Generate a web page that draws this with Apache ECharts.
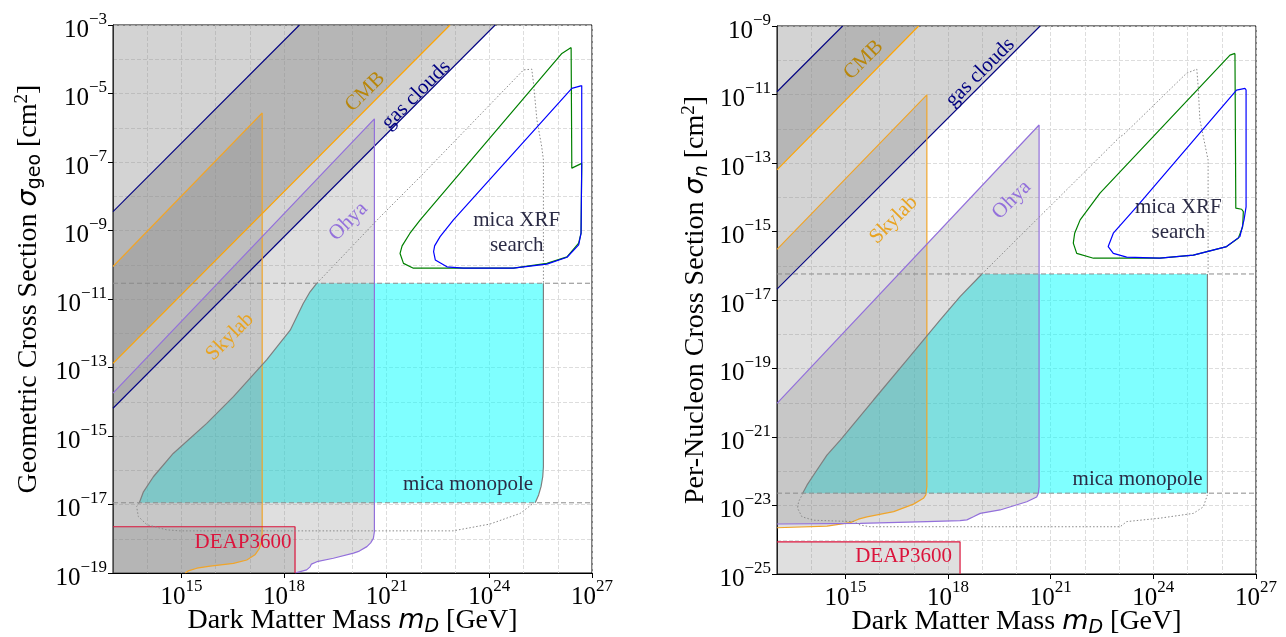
<!DOCTYPE html>
<html><head><meta charset="utf-8">
<script src="https://cdn.jsdelivr.net/npm/echarts@6/dist/echarts.min.js"></script>
<style>html,body{margin:0;padding:0;background:#fff}#c{width:1286px;height:637px}</style>
</head><body><div id="c"></div>
<script>
// All values are log10: x = log10(m_D / GeV), y = log10(sigma / cm^2)
const xTicks = [15, 18, 21, 24, 27];
const yTicksGeo = [-19, -17, -15, -13, -11, -9, -7, -5, -3];
const yTicksN = [-25, -23, -21, -19, -17, -15, -13, -11, -9];

// ---------- Left panel: geometric cross section ----------
const geoGasUpper = [[13, -8.45], [18.45, -3]];
const geoGasLower = [[13, -14.19], [24.17, -3]];
const geoCMB = [[13, -12.88], [22.85, -3]];
const geoSkylab = [[13, -10.05], [17.36, -5.57], [17.36, -17.79], [17.35, -18.04], [17.28, -18.28], [17.15, -18.47], [16.91, -18.62], [16.52, -18.72], [15.84, -18.80], [15.45, -18.86], [15.20, -18.94], [15.11, -19]];
const geoOhya = [[13, -13.75], [20.64, -5.74], [20.64, -17.79], [20.61, -17.99], [20.53, -18.12], [20.42, -18.23], [20.20, -18.36], [20.03, -18.42], [19.44, -18.57], [18.96, -18.67], [18.80, -18.74], [18.76, -18.82], [18.66, -18.91], [18.47, -18.96], [18.32, -19]];
const geoDEAP = [[13, -17.65], [18.32, -17.65], [18.32, -19]];
const geoMonoLeft = [[13.77, -16.95], [13.89, -16.63], [14.18, -16.19], [14.76, -15.51], [15.74, -14.63], [16.52, -13.85], [17.49, -12.78], [18.18, -11.91], [18.56, -11.13], [18.76, -10.79], [18.96, -10.54]];
const geoMonoRight = [[25.58, -10.54], [25.58, -15.90], [25.56, -16.19], [25.51, -16.48], [25.44, -16.72], [25.34, -16.95]];
const geoBand = [-10.54, -16.95];
const geoDotUpper = [[18.96, -10.54], [20.81, -8.60], [21.98, -7.43], [25.00, -4.31], [25.24, -4.29], [25.29, -4.70], [25.39, -5.77], [25.53, -6.55], [25.58, -6.94], [25.58, -10.54]];
const geoDotLower = [[13.77, -16.95], [13.69, -17.06], [13.74, -17.35], [13.99, -17.59], [14.57, -17.74], [14.96, -17.77], [22.94, -17.77], [24.02, -17.57], [24.90, -17.26], [25.29, -16.96]];
const geoXRFgreen = [[26.39, -3.66], [26.12, -3.83], [21.98, -8.69], [21.68, -9.08], [21.45, -9.45], [21.39, -9.67], [21.49, -9.96], [21.78, -10.10], [24.70, -10.10], [25.68, -9.96], [26.27, -9.77], [26.61, -9.37], [26.68, -9.08], [26.70, -7.04], [26.65, -7.04], [26.41, -7.18], [26.39, -3.66]];
const geoXRFblue = [[26.70, -4.77], [26.41, -4.85], [22.95, -8.69], [22.56, -9.18], [22.40, -9.45], [22.37, -9.62], [22.42, -9.86], [22.76, -10.06], [23.24, -10.10], [24.70, -10.10], [25.68, -9.98], [26.27, -9.78], [26.61, -9.42], [26.68, -9.08], [26.70, -7.04], [26.70, -4.77]];

// ---------- Right panel: per-nucleon cross section ----------
const nGasUpper = [[13, -10.92], [14.92, -9]];
const nGasLower = [[13, -16.68], [20.69, -9]];
const nCMB = [[13, -13.20], [17.14, -9]];
const nSkylab = [[13, -15.52], [17.38, -11.01], [17.38, -22.45], [17.35, -22.69], [17.28, -22.79], [16.99, -22.96], [16.41, -23.18], [15.63, -23.33], [15.38, -23.40], [15.14, -23.50], [14.46, -23.60], [13, -23.65]];
const nOhya = [[13, -20.02], [20.66, -11.89], [20.66, -22.45], [20.64, -22.64], [20.59, -22.75], [20.30, -22.89], [19.52, -23.13], [18.94, -23.23], [18.74, -23.33], [18.55, -23.42], [18.35, -23.44], [17.38, -23.47], [15.43, -23.52], [13, -23.54]];
const nDEAP = [[13, -24.06], [18.35, -24.06], [18.35, -25]];
const nMonoLeft = [[13.75, -22.64], [13.88, -22.40], [14.07, -22.11], [14.46, -21.53], [14.85, -21.09], [15.82, -19.92], [16.80, -18.75], [17.77, -17.58], [18.35, -16.90], [18.99, -16.24]];
const nMonoRight = [[25.58, -16.24], [25.58, -22.64]];
const nBand = [-16.24, -22.64];
const nDotUpper = [[18.99, -16.24], [23.03, -12.23], [23.12, -12.18], [24.97, -10.38], [25.27, -10.26], [25.31, -10.77], [25.36, -11.74], [25.56, -12.72], [25.60, -12.91], [25.60, -16.24]];
const nDotLower = [[13.76, -22.64], [13.63, -22.89], [13.60, -23.08], [13.73, -23.33], [14.07, -23.43], [15.24, -23.47], [15.43, -23.57], [15.72, -23.62], [23.03, -23.62], [23.22, -23.47], [24.19, -23.37], [25.17, -23.23], [25.46, -23.04], [25.58, -22.69]];
const nXRFgreen = [[26.385, -9.80], [26.24, -9.85], [22.44, -13.88], [21.86, -14.66], [21.70, -15.05], [21.66, -15.34], [21.76, -15.64], [22.25, -15.78], [24.19, -15.78], [25.17, -15.69], [26.14, -15.44], [26.48, -15.20], [26.61, -14.86], [26.63, -14.42], [26.58, -14.35], [26.41, -14.32], [26.385, -9.80]];
const nXRFblue = [[26.68, -10.82], [26.43, -10.87], [23.51, -14.28], [22.83, -15.05], [22.68, -15.44], [22.83, -15.64], [23.22, -15.75], [24.19, -15.78], [25.17, -15.69], [26.14, -15.44], [26.53, -15.15], [26.65, -14.66], [26.71, -14.28], [26.71, -10.87], [26.68, -10.82]];

// text anchors (data coordinates)
const geoLabelAt = {CMB: [20.37, -4.95], gas: [21.86, -5.04], Skylab: [16.42, -12.10], Ohya: [19.88, -8.74], XRF: [24.80, -9.06], mono: [25.28, -16.43], DEAP: [16.80, -18.12]};
const nLabelAt = {CMB: [15.53, -9.99], gas: [18.94, -10.36], Skylab: [16.41, -14.66], Ohya: [19.86, -14.08], XRF: [24.73, -14.66], mono: [25.44, -22.23], DEAP: [16.70, -24.49]};

const SERIF = '"Liberation Serif","Times New Roman",serif';
const SANS = '"DejaVu Sans",sans-serif';
const GREY_A = 'rgba(128,128,128,0.35)';
const GREY_B = 'rgba(128,128,128,0.25)';

function supTxt(v) { return v < 0 ? '\u2212' + (-v) : String(v); }
const tickRich = {
  b: {fontFamily: SERIF, fontSize: 25, lineHeight: 38, color: '#000'},
  s: {fontFamily: SERIF, fontSize: 17, lineHeight: 17, verticalAlign: 'top', color: '#000'}
};
const nameRich = {
  t: {fontFamily: SERIF, fontSize: 28, lineHeight: 32, color: '#000'},
  m: {fontFamily: SANS, fontStyle: 'italic', fontSize: 27, lineHeight: 32, color: '#000'},
  d: {fontFamily: SANS, fontStyle: 'italic', fontSize: 19, lineHeight: 19, verticalAlign: 'bottom', color: '#000'},
  dr: {fontFamily: SANS, fontSize: 19, lineHeight: 19, verticalAlign: 'bottom', color: '#000'},
  u: {fontFamily: SERIF, fontSize: 19, lineHeight: 19, verticalAlign: 'top', color: '#000'}
};

function axesFor(gi, ymin, ymax, yTicks, yName, yGap, yPad) {
  const split = {show: true, lineStyle: {color: '#d4d4d4', type: [4, 2], width: 0.8}};
  const xs = [
    {gridIndex: gi, type: 'value', position: 'bottom', min: 13, max: 27, interval: 1,
     axisLine: {show: true, onZero: false, lineStyle: {color: '#000', width: 1}}, axisTick: {show: false}, axisLabel: {show: false}, splitLine: split},
    {gridIndex: gi, type: 'value', position: 'bottom', min: 13, max: 27,
     axisLine: {show: false, onZero: false},
     axisTick: {show: true, customValues: xTicks, length: 5, lineStyle: {color: '#000'}},
     axisLabel: {customValues: xTicks, margin: 5, formatter: v => xTicks.includes(v) ? '{b|10}{s|' + supTxt(v) + '}' : '', rich: tickRich},
     splitLine: {show: false},
     name: '{t|Dark Matter Mass }{m|m}{d|D}{t| [GeV]}', nameLocation: 'middle', nameGap: 32, nameMoveOverlap: false, nameTextStyle: {rich: nameRich}}
  ];
  const ys = [
    {gridIndex: gi, type: 'value', position: 'left', min: ymin, max: ymax, interval: 1,
     axisLine: {show: true, onZero: false, lineStyle: {color: '#000', width: 1}}, axisTick: {show: false}, axisLabel: {show: false}, splitLine: split},
    {gridIndex: gi, type: 'value', position: 'left', min: ymin, max: ymax,
     axisLine: {show: false, onZero: false},
     axisTick: {show: true, customValues: yTicks, length: 5, lineStyle: {color: '#000'}},
     axisLabel: {customValues: yTicks, margin: 6, padding: [10, 0, 0, 0], formatter: v => yTicks.includes(v) ? '{b|10}{s|' + supTxt(v) + '}' : '', rich: tickRich},
     splitLine: {show: false},
     name: yName, nameLocation: 'middle', nameGap: yGap, nameRotate: 90, nameTextStyle: {rich: nameRich, padding: yPad}}
  ];
  return {xs, ys};
}

function poly(gi, pts, fill, z) {
  return {type: 'custom', xAxisIndex: gi * 2, yAxisIndex: gi * 2, clip: true, silent: true, z: z,
    data: [pts[0]],
    renderItem: (p, api) => ({type: 'polygon', shape: {points: pts.map(q => api.coord(q))}, style: {fill: fill}})};
}
function line(gi, pts, color, width, type, z) {
  return {type: 'line', xAxisIndex: gi * 2, yAxisIndex: gi * 2, data: pts, symbol: 'none', showSymbol: false,
    silent: true, z: z || 5, lineStyle: {color: color, width: width, type: type || 'solid'}};
}
function label(gi, at, text, color, rot, align) {
  return {type: 'custom', xAxisIndex: gi * 2, yAxisIndex: gi * 2, silent: true, z: 20, data: [at],
    renderItem: (p, api) => {
      const c = api.coord([api.value(0), api.value(1)]);
      return {type: 'text', x: c[0], y: c[1], rotation: rot || 0,
        style: {text: text, fill: color, font: '21px ' + SERIF, align: align || 'center', verticalAlign: 'middle', lineHeight: 25}};
    }};
}

function panel(gi, d) {
  const yMin = d.ymin, band = d.band;
  return [
    poly(gi, d.monoLeft.concat(d.monoRight), 'rgba(0,255,255,0.5)', 1),
    poly(gi, d.cmb.concat([[13, d.ymax]]), GREY_A, 2),
    poly(gi, d.gasUpper.concat(d.gasLower.slice().reverse()), GREY_A, 2),
    poly(gi, d.skylab.concat(d.skylabClose), GREY_B, 2),
    poly(gi, d.ohya.concat(d.ohyaClose), GREY_B, 2),
    poly(gi, d.deap.concat([[13, yMin]]), GREY_B, 2),
    line(gi, d.gasUpper, '#000080', 1.1),
    line(gi, d.gasLower, '#000080', 1.1),
    line(gi, d.cmb, '#FFA500', 1.2),
    line(gi, d.skylab, '#F0A52A', 1.2),
    line(gi, d.ohya, '#9370DB', 1.2),
    line(gi, d.deap, '#DC143C', 1.2),
    line(gi, d.monoLeft, '#7f7f7f', 1.2),
    line(gi, d.monoRight, '#7f7f7f', 1.2),
    line(gi, [[13, band[0]], [27, band[0]]], '#8a8a8a', 1, [5, 3]),
    line(gi, [[13, band[1]], [27, band[1]]], '#8a8a8a', 1, [5, 3]),
    line(gi, d.dotUpper, '#8a8a8a', 1, [1.5, 2]),
    line(gi, d.dotLower, '#8a8a8a', 1, [1.5, 2]),
    line(gi, d.xrfGreen, '#008000', 1.2, 'solid', 6),
    line(gi, d.xrfBlue, '#0000FF', 1.2, 'solid', 6),
    label(gi, d.lab.CMB, 'CMB', '#B8860B', Math.PI / 4),
    label(gi, d.lab.gas, 'gas clouds', '#000080', Math.PI / 4),
    label(gi, d.lab.Skylab, 'Skylab', '#E8A321', Math.PI / 4),
    label(gi, d.lab.Ohya, 'Ohya', '#9370DB', Math.PI / 4),
    label(gi, d.lab.XRF, 'mica XRF\nsearch', '#2b2b45', 0),
    label(gi, d.lab.mono, 'mica monopole', '#2b2b45', 0, 'right'),
    label(gi, d.lab.DEAP, 'DEAP3600', '#DC143C', 0)
  ];
}

const A = axesFor(0, -19, -3, yTicksGeo, '{t|Geometric Cross Section }{m|σ}{dr|geo}{t| [cm}{u|2}{t|]}', 68, [0, 0, 0, 20]);
const B = axesFor(1, -25, -9, yTicksN, '{t|Per-Nucleon Cross Section }{m|σ}{d|n}{t| [cm}{u|2}{t|]}', 65, [0, 0, 0, 0]);

const series = [].concat(
  panel(0, {ymin: -19, ymax: -3, band: geoBand, gasUpper: geoGasUpper, gasLower: geoGasLower, cmb: geoCMB,
    skylab: geoSkylab, skylabClose: [[13, -19]], ohya: geoOhya, ohyaClose: [[13, -19]], deap: geoDEAP,
    monoLeft: geoMonoLeft, monoRight: geoMonoRight, dotUpper: geoDotUpper, dotLower: geoDotLower,
    xrfGreen: geoXRFgreen, xrfBlue: geoXRFblue, lab: geoLabelAt}),
  panel(1, {ymin: -25, ymax: -9, band: nBand, gasUpper: nGasUpper, gasLower: nGasLower, cmb: nCMB,
    skylab: nSkylab, skylabClose: [], ohya: nOhya, ohyaClose: [], deap: nDEAP,
    monoLeft: nMonoLeft, monoRight: nMonoRight, dotUpper: nDotUpper, dotLower: nDotLower,
    xrfGreen: nXRFgreen, xrfBlue: nXRFblue, lab: nLabelAt})
);

const chart = echarts.init(document.getElementById('c'), null, {renderer: 'canvas'});
chart.setOption({
  animation: false,
  backgroundColor: '#fff',
  grid: [
    {left: 113, top: 25, width: 479, height: 548, show: true, borderColor: '#000', borderWidth: 1, outerBoundsMode: 'none', containLabel: false},
    {left: 777, top: 26, width: 479, height: 548, show: true, borderColor: '#000', borderWidth: 1, outerBoundsMode: 'none', containLabel: false}
  ],
  xAxis: A.xs.concat(B.xs),
  yAxis: A.ys.concat(B.ys),
  series: series
});
</script>
</body></html>
